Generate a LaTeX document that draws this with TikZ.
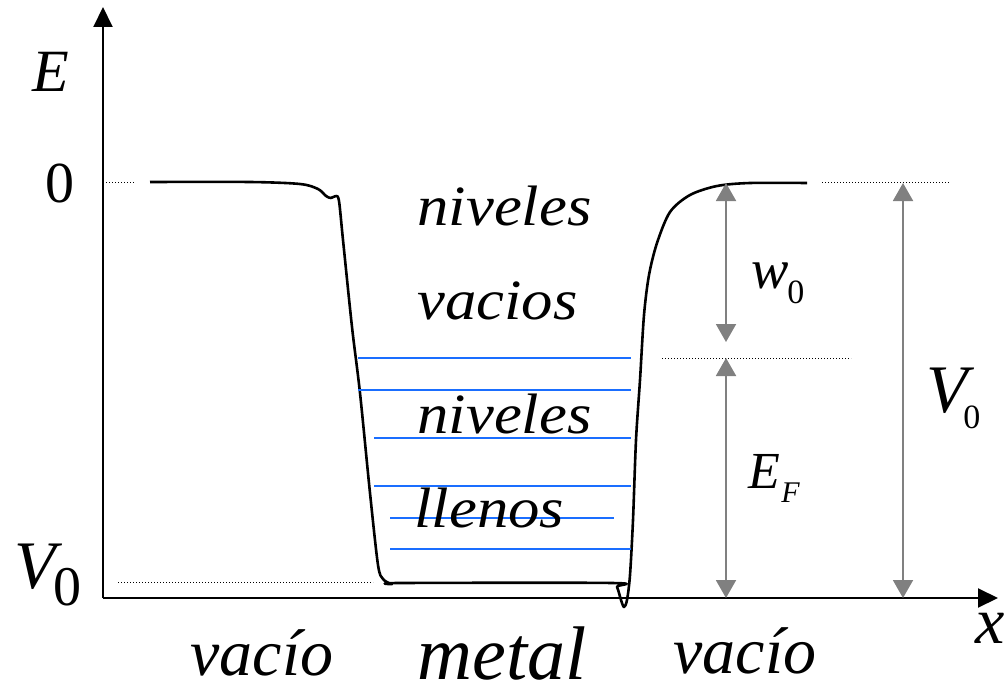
\documentclass[tikz,border=0pt]{standalone}
\usepackage{fontspec}
\setmainfont{Liberation Serif}
\newfontfamily\widefont{Liberation Serif}[FakeStretch=1.1]
\usetikzlibrary{arrows.meta}
\definecolor{levelblue}{HTML}{1A6EFF}
\definecolor{dimgray}{HTML}{808080}
\newcommand{\fs}[1]{\fontsize{#1}{#1}\selectfont}
\tikzset{
  axis/.style={-{Triangle[length=10pt,width=9.5pt]}, line width=1pt},
  curve/.style={line width=1.3pt, line join=round},
  level/.style={draw=levelblue, line width=1pt},
  guide/.style={line width=0.5pt, dash pattern=on 0.6pt off 0.9pt},
  dim/.style={{Triangle[length=9pt,width=10pt]}-{Triangle[length=9pt,width=10pt]},
              draw=dimgray, fill=dimgray, line width=1pt},
  lbl/.style={inner sep=0pt, anchor=base west},
  inwell/.style={lbl, font=\widefont\itshape\fs{28.5}}
}

\begin{document}
\begin{tikzpicture}[x=0.5pt, y=-0.5pt]
    \useasboundingbox (0,0) rectangle (1006,690);

    %% axes
    \coordinate (O) at (103,598);
    \coordinate (ytop) at (103,7);
    \coordinate (xend) at (998,598);
    \draw[axis] (O) -- (ytop);
    \draw[axis] (O) -- (xend);

    %% potential well
    \draw[curve] plot[smooth, tension=0.5] coordinates {
      (150,182) (250,182) (300,184) (318,189) (326,196) (331,198) (336,196)
      (339,201) (343,240) (352,327) (360,393) (370,493) (378,565) (383,579)
      (392,584) (400,583) (612,583) (617,587) (621,600) (624,607) (627,600)
      (630,575) (633,520) (636,440) (640,380) (644,315) (649,275) (657,243)
      (670,212) (690,195) (717,186) (750,183) (807,183)};

    %% dotted guides
    \draw[guide] (103,182) -- (135,182);
    \draw[guide] (822,182) -- (950,182);
    \draw[guide] (662,358) -- (851,358);
    \draw[guide] (118,582) -- (373,582);

    %% filled levels
    \draw[level] (358,358) -- (631,358);
    \draw[level] (358,390) -- (631,390);
    \draw[level] (374,438) -- (631,438);
    \draw[level] (374,486) -- (631,486);
    \draw[level] (390,518) -- (614,518);
    \draw[level] (390,549) -- (631,549);

    %% energy gaps
    \coordinate (wtop) at (726,183);
    \coordinate (fermi) at (726,358);
    \coordinate (wbot) at (726,598);
    \coordinate (vtop) at (903,183);
    \coordinate (vbot) at (903,598);
    \draw[dim, shorten >=8pt] (wtop) -- (fermi);
    \draw[dim] (fermi) -- (wbot);
    \draw[dim] (vtop) -- (vbot);

    %% labels
    \node[lbl, font=\itshape\fs{30}] (E) at (32,92) {E};
    \node[lbl, font=\fs{29}] (zero) at (45,202) {0};
    \node[lbl, font=\itshape\fs{34}] (Vl) at (14,588) {V};
    \node[lbl, font=\fs{28}] (Vlsub) at (53,605) {0};
    \node[inwell] (vac1) at (417,225) {niveles};
    \node[inwell] (vac2) at (417,319) {vacios};
    \node[inwell] (full1) at (417,433) {niveles};
    \node[inwell] (full2) at (414,527) {llenos};
    \node[lbl, font=\itshape\fs{28}] (w) at (751,288) {w};
    \node[lbl, font=\fs{17}] (wsub) at (787,303) {0};
    \node[lbl, font=\itshape\fs{26}] (EF) at (748,488) {E};
    \node[lbl, font=\itshape\fs{15}] (EFsub) at (781,502) {F};
    \node[lbl, font=\itshape\fs{34}] (Vr) at (926,412) {V};
    \node[lbl, font=\fs{17}] (Vrsub) at (963,428) {0};
    \node[lbl, font=\itshape\fs{33}] (vacL) at (190,675) {vacío};
    \node[lbl, font=\itshape\fs{38}] (metal) at (417,679) {metal};
    \node[lbl, font=\itshape\fs{33}] (vacR) at (673,673) {vacío};
    \node[lbl, font=\itshape\fs{33}] (xlab) at (975,643) {x};
  \end{tikzpicture}
\end{document}
